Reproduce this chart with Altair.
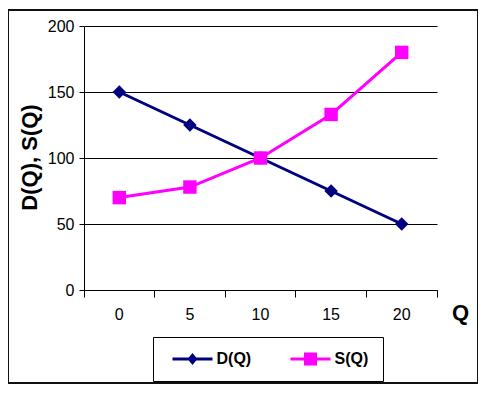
import altair as alt
import pandas as pd

# ---- data ----
q_values = ["0", "5", "10", "15", "20"]
d_values = [150, 125, 100, 75, 50]
s_values = [70, 78, 100, 133, 180]
series_names = ["D(Q)", "S(Q)"]
series_colors = ["#000080", "#FF00FF"]
series_shapes = ["diamond", "square"]
y_ticks = [0, 50, 100, 150, 200]

rows = []
for q, d in zip(q_values, d_values):
    rows.append({"Q": q, "value": d, "series": "D(Q)"})
for q, s in zip(q_values, s_values):
    rows.append({"Q": q, "value": s, "series": "S(Q)"})
df = pd.DataFrame(rows)

FONT = "Liberation Sans"
W, H = 353, 264

LINE = "M-3.08,-0.23L3.08,-0.23L3.08,0.23L-3.08,0.23Z"
D_PATH = LINE + "M-0.77,0L0,-0.92L0.77,0L0,0.92Z"
S_PATH = LINE + "M-1,-1L1,-1L1,1L-1,1Z"
pick = lambda a, b: {"expr": "datum.value === '" + series_names[0] + "' ? '" + a + "' : '" + b + "'"}

x_enc = alt.X(
    "Q:N",
    sort=q_values,
    scale=alt.Scale(type="band", paddingInner=0, paddingOuter=0),
    axis=alt.Axis(
        title="Q",
        titleX=376, titleY=22, titleAlign="center", titleBaseline="middle",
        titleAngle=0,
        titleFont=FONT, titleFontSize=22, titleFontWeight="bold", titleColor="black",
        labelAngle=0, labelPadding=9, tickSize=7,
        bandPosition=1, tickExtra=True, grid=False,
    ),
)
y_enc = alt.Y(
    "value:Q",
    scale=alt.Scale(domain=[0, 200], nice=False),
    axis=alt.Axis(
        values=y_ticks,
        title="D(Q), S(Q)",
        titleX=-55, titleY=131, titleAlign="center", titleBaseline="middle",
        titleAngle=270,
        titleFont=FONT, titleFontSize=22, titleFontWeight="bold", titleColor="black",
        grid=True, gridColor="black", gridWidth=1, gridOpacity=1,
        tickSize=5, labelPadding=5,
    ),
)

color_legend = alt.Color(
    "series:N",
    scale=alt.Scale(domain=series_names, range=series_colors),
    legend=alt.Legend(
        title=None,
        orient="none",
        legendX=69,
        legendY=311,
        direction="horizontal",
        strokeColor="black",
        fillColor="white",
        padding=14,
        labelFont=FONT,
        labelFontSize=16,
        labelFontWeight="bold",
        labelColor="black",
        symbolSize=169,
        symbolOffset=17.5,
        labelOffset=16,
        columnPadding=33,
        symbolType=pick(D_PATH, S_PATH),
        symbolFillColor=pick(series_colors[0], series_colors[1]),
        symbolStrokeColor=pick(series_colors[0], series_colors[1]),
        symbolStrokeWidth=0,
        symbolOpacity=1,
    ),
)

base = alt.Chart(df)

lines = base.mark_line(strokeWidth=3).encode(x=x_enc, y=y_enc, color=color_legend)

point_layers = []
for name, col, shp in zip(series_names, series_colors, series_shapes):
    point_layers.append(
        base.transform_filter(alt.datum.series == name)
        .mark_point(filled=True, size=180, opacity=1, shape=shp, fill=col)
        .encode(x=x_enc, y=y_enc)
    )

border = alt.Chart(alt.Data(values=[{}])).mark_rect(
    fill="transparent", stroke="#111111", strokeWidth=2
).encode(
    x=alt.value(-76), x2=alt.value(394), y=alt.value(-16), y2=alt.value(357)
)

chart = alt.layer(border, lines, *point_layers).properties(
    width=W,
    height=H,
    autosize=alt.AutoSizeParams(type="none"),
    padding={"left": 76, "top": 18, "right": 41, "bottom": 94},
    background="white",
).configure_view(stroke=None).configure_axis(
    labelFont=FONT,
    labelFontSize=16,
    labelColor="black",
    domainColor="black",
    domainWidth=1,
    tickColor="black",
    tickWidth=1,
)

chart.save("out.html", embed_options={"renderer": "svg", "actions": False})
